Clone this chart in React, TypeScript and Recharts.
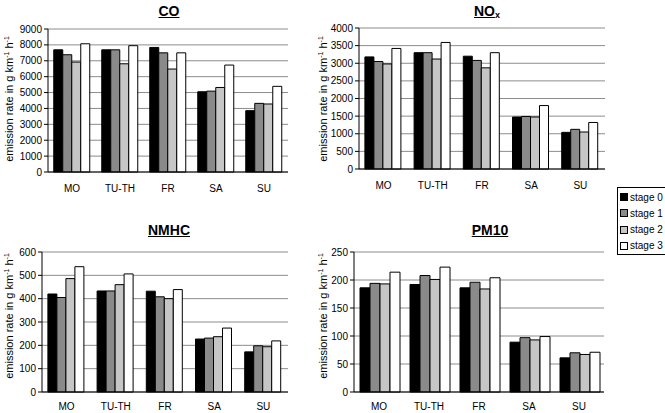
import React from "react";
import { BarChart, Bar, XAxis, YAxis, CartesianGrid } from "recharts";

const categories = ["MO", "TU-TH", "FR", "SA", "SU"];
const stageNames = ["stage 0", "stage 1", "stage 2", "stage 3"];
const stageColors = ["#000000", "#8a8a8a", "#c6c6c6", "#ffffff"];

const coStage0 = [7690, 7690, 7840, 5050, 3860];
const coStage1 = [7380, 7690, 7500, 5090, 4320];
const coStage2 = [6920, 6810, 6480, 5320, 4280];
const coStage3 = [8070, 7950, 7500, 6730, 5390];
const coTicks = [0, 1000, 2000, 3000, 4000, 5000, 6000, 7000, 8000, 9000];

const noxStage0 = [3180, 3300, 3200, 1475, 1040];
const noxStage1 = [3050, 3300, 3080, 1490, 1125];
const noxStage2 = [2980, 3120, 2870, 1475, 1050];
const noxStage3 = [3420, 3590, 3300, 1800, 1320];
const noxTicks = [0, 500, 1000, 1500, 2000, 2500, 3000, 3500, 4000];

const nmhcStage0 = [420, 433, 432, 227, 172];
const nmhcStage1 = [405, 433, 408, 231, 198];
const nmhcStage2 = [486, 460, 400, 237, 194];
const nmhcStage3 = [537, 506, 439, 274, 219];
const nmhcTicks = [0, 100, 200, 300, 400, 500, 600];

const pmStage0 = [186, 192, 186, 89, 61];
const pmStage1 = [194, 208, 196, 97, 70];
const pmStage2 = [193, 201, 184, 93, 67];
const pmStage3 = [214, 223, 204, 99, 71];
const pmTicks = [0, 50, 100, 150, 200, 250];

const build = (s0: number[], s1: number[], s2: number[], s3: number[]) =>
  categories.map((c, i) => ({ cat: c, s0: s0[i], s1: s1[i], s2: s2[i], s3: s3[i] }));

const FONT = "'Liberation Sans', Arial, sans-serif";

type PanelProps = {
  data: any[];
  ticks: number[];
  left: number;
  top: number;
  width: number;
  height: number;
  marginTop: number;
  marginRight: number;
  yWidth: number;
  xHeight: number;
  xTickMargin: number;
};

function Panel(p: PanelProps) {
  const max = p.ticks[p.ticks.length - 1];
  return (
    <div style={{ position: "absolute", left: p.left, top: p.top }}>
      <BarChart
        width={p.width}
        height={p.height}
        data={p.data}
        margin={{ top: p.marginTop, right: p.marginRight, left: 0, bottom: 0 }}
        barGap={0}
        barCategoryGap="12%"
      >
        <CartesianGrid horizontal vertical={false} stroke="#8c8c8c" strokeWidth={1} />
        <XAxis
          dataKey="cat"
          height={p.xHeight}
          tickLine={false}
          axisLine={{ stroke: "#000" }}
          tick={{ fontSize: 10, fill: "#000", fontFamily: FONT }}
          tickMargin={p.xTickMargin}
          interval={0}
        />
        <XAxis
          xAxisId="top"
          dataKey="cat"
          orientation="top"
          height={0}
          tick={false}
          tickLine={false}
          axisLine={{ stroke: "#000" }}
        />
        <YAxis
          width={p.yWidth}
          domain={[0, max]}
          ticks={p.ticks}
          interval={0}
          tickSize={4}
          tickMargin={2}
          tickLine={{ stroke: "#000" }}
          axisLine={{ stroke: "#000" }}
          tick={{ fontSize: 10, fill: "#000", fontFamily: FONT }}
        />
        <YAxis
          yAxisId="right"
          orientation="right"
          width={0}
          domain={[0, 1]}
          tick={false}
          tickLine={false}
          axisLine={{ stroke: "#000" }}
        />
        {["s0", "s1", "s2", "s3"].map((k, i) => (
          <Bar
            key={k}
            dataKey={k}
            name={stageNames[i]}
            fill={stageColors[i]}
            stroke="#000"
            strokeWidth={1}
            isAnimationActive={false}
          />
        ))}
      </BarChart>
    </div>
  );
}

function YLabel({ cx, cy }: { cx: number; cy: number }) {
  const w = 180;
  return (
    <div
      style={{
        position: "absolute",
        left: cx - w / 2,
        top: cy - 7,
        width: w,
        height: 14,
        lineHeight: "14px",
        textAlign: "center",
        transform: "rotate(-90deg)",
        fontSize: 11,
        fontFamily: FONT,
        color: "#000",
        whiteSpace: "nowrap",
      }}
    >
      emission rate in g km<sup style={{ fontSize: 7, verticalAlign: "4px" }}>-1</sup> h
      <sup style={{ fontSize: 7, verticalAlign: "4px" }}>-1</sup>
    </div>
  );
}

function Title({ cx, cy, children }: { cx: number; cy: number; children: React.ReactNode }) {
  const w = 100;
  return (
    <div
      style={{
        position: "absolute",
        left: cx - w / 2,
        top: cy - 8,
        width: w,
        height: 16,
        lineHeight: "16px",
        textAlign: "center",
        fontSize: 14,
        fontWeight: "bold",
        textDecoration: "underline",
        fontFamily: FONT,
        color: "#000",
      }}
    >
      {children}
    </div>
  );
}

function Legend() {
  return (
    <div
      style={{
        position: "absolute",
        left: 617,
        top: 187,
        width: 47,
        height: 66,
        border: "1px solid #000",
        background: "#fff",
        fontFamily: FONT,
        fontSize: 10,
        color: "#000",
      }}
    >
      {stageNames.map((n, i) => (
        <div
          key={n}
          style={{ position: "absolute", left: 2, top: 3 + i * 16.3, height: 12, display: "flex", alignItems: "center", whiteSpace: "nowrap" }}
        >
          <span
            style={{
              display: "inline-block",
              width: 6,
              height: 6,
              background: stageColors[i],
              border: "1px solid #000",
              marginRight: 2,
            }}
          />
          {n}
        </div>
      ))}
    </div>
  );
}

export default function App() {
  return (
    <div
      style={{
        position: "absolute",
        left: 0,
        top: 0,
        width: 665,
        height: 413,
        background: "#fff",
        overflow: "hidden",
        fontFamily: FONT,
      }}
    >
      <Panel data={build(coStage0, coStage1, coStage2, coStage3)} ticks={coTicks}
        left={0} top={0} width={300} height={200} marginTop={29} marginRight={12} yWidth={48} xHeight={28} xTickMargin={7} />
      <Panel data={build(noxStage0, noxStage1, noxStage2, noxStage3)} ticks={noxTicks}
        left={330} top={0} width={290} height={200} marginTop={28} marginRight={15} yWidth={29} xHeight={31} xTickMargin={7} />
      <Panel data={build(nmhcStage0, nmhcStage1, nmhcStage2, nmhcStage3)} ticks={nmhcTicks}
        left={0} top={200} width={300} height={213} marginTop={52} marginRight={12} yWidth={42} xHeight={21} xTickMargin={5} />
      <Panel data={build(pmStage0, pmStage1, pmStage2, pmStage3)} ticks={pmTicks}
        left={330} top={200} width={290} height={213} marginTop={52} marginRight={16} yWidth={24} xHeight={21} xTickMargin={5} />

      <Title cx={169} cy={11}>CO</Title>
      <Title cx={487} cy={11}>
        NO<sub style={{ fontSize: 9, verticalAlign: "-2px" }}>x</sub>
      </Title>
      <Title cx={169} cy={230}>NMHC</Title>
      <Title cx={490} cy={230}>PM10</Title>

      <YLabel cx={7} cy={99} />
      <YLabel cx={321} cy={99} />
      <YLabel cx={7} cy={316} />
      <YLabel cx={321} cy={316} />

      <Legend />
    </div>
  );
}
